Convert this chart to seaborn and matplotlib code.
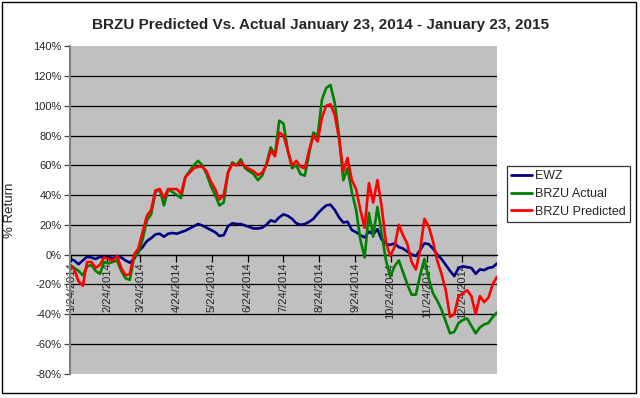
import numpy as np
import pandas as pd
import matplotlib
matplotlib.use("Agg")
import matplotlib.pyplot as plt
import seaborn as sns
from matplotlib.patches import Rectangle

# ---- data (percent return, sampled from 1/23/2014 to 1/23/2015) ----
ewz = [-3, -4, -6.5, -4, -1.5, -2, -3, -1.5, -2, -1.5,
       -2.5, -1, -2, -4, -5.5, -3, 2, 5, 9, 11,
       13.5, 14, 12, 14, 14.5, 14, 15, 16, 17.5, 19,
       20.5, 19.5, 18, 16.5, 15, 12.5, 13, 19, 21, 20.5,
       20.5, 19.5, 18.5, 17.5, 17.5, 18, 20, 23, 22, 25,
       27, 26, 24, 21, 20, 20.5, 22, 24, 27.5, 30.5,
       33, 33.5, 30, 25, 21.5, 22, 16.5, 15, 13, 11.5,
       15.5, 13.5, 17, 10, 7, 6.5, 7.5, 5, 4, 2,
       0, -1, 3, 7.5, 7, 4, 0, -3, -7, -11,
       -14.5, -9, -8, -8.5, -9, -13, -10, -10.5, -9, -8.5,
       -6]

brzu_actual = [-7, -9, -11, -14, -8, -7, -11, -13, -5, -6,
               -5, -4, -11, -16, -17, -2, 1, 10, 23, 27,
               42, 44, 33, 44, 42, 40, 38, 52, 56, 60,
               63, 60, 54, 46, 40, 33, 35, 55, 62, 60,
               64, 58, 56, 54, 50, 53, 61, 72, 67, 90,
               88, 70, 58, 60, 54, 53, 68, 82, 80, 104,
               112, 114, 102, 80, 50, 58, 42, 30, 10, -2,
               28, 12, 32, 14, -4, -15, -8, -4, -12, -20,
               -27, -27, -14, -3, -16, -26, -31, -37, -45, -53,
               -52, -46, -44, -43, -48, -53, -49, -47, -46, -42,
               -39]

brzu_predicted = [-7, -10, -18, -21, -5, -5, -9, -7, -2, -3,
                  -4, -1, -9, -14, -13, 0, 4, 15, 26, 30,
                  43, 44, 38, 44, 44, 44, 41, 52, 55, 58,
                  59, 59, 56, 49, 44, 37, 40, 55, 61, 60,
                  62, 59, 57.5, 56, 53.5, 55, 60, 70, 66, 82,
                  80, 70, 60, 63, 59, 58, 70, 80, 76, 92,
                  100, 101, 94, 78, 56, 65, 50, 44, 30, 18,
                  48, 35, 50, 32, 8, -1, 5, 20, 13, 7,
                  -5, -10, 3, 24, 19, 9, -4, -13, -24, -42,
                  -40, -28, -26, -24, -28, -40, -28, -32, -29, -20,
                  -15]

series_names = ["EWZ", "BRZU Actual", "BRZU Predicted"]
series_colors = ["#000080", "#008000", "#FF0000"]

x_tick_labels = ["1/24/2014", "2/24/2014", "3/24/2014", "4/24/2014",
                 "5/24/2014", "6/24/2014", "7/24/2014", "8/24/2014",
                 "9/24/2014", "10/24/2014", "11/24/2014", "12/24/2014"]
y_ticks = list(range(-80, 141, 20))

title = "BRZU Predicted Vs. Actual January 23, 2014 - January 23, 2015"

# ---- build table ----
dates = pd.date_range("2014-01-23", "2015-01-23", periods=len(ewz))
df = pd.DataFrame({
    "date": np.concatenate([dates, dates, dates]),
    "value": ewz + brzu_actual + brzu_predicted,
    "series": [series_names[0]] * len(ewz)
              + [series_names[1]] * len(brzu_actual)
              + [series_names[2]] * len(brzu_predicted),
})

sns.set_style("white")
plt.rcParams["font.family"] = ["Liberation Sans", "DejaVu Sans"]

W, H = 640, 398
fig = plt.figure(figsize=(W / 100, H / 100), dpi=100)
fig.patch.set_facecolor("white")
ax = fig.add_axes([70 / W, 1 - 373.5 / H, 427 / W, (373.5 - 46.3) / H])
ax.set_facecolor("#C0C0C0")

sns.lineplot(data=df, x="date", y="value", hue="series",
             hue_order=series_names, palette=series_colors,
             linewidth=1.9, errorbar=None, ax=ax, legend=True)

ax.set_xlim(dates[0], dates[-1])
ax.set_ylim(y_ticks[0], y_ticks[-1])
ax.set_yticks(y_ticks)
ax.set_yticklabels([f"{v}%" for v in y_ticks])

tick_pos = pd.to_datetime(x_tick_labels, format="%m/%d/%Y")
ax.set_xticks(tick_pos)
ax.set_xticklabels(x_tick_labels)

ax.yaxis.grid(True, color="black", linewidth=0.9)
ax.xaxis.grid(False)
ax.set_axisbelow(True)
gl = ax.get_ygridlines()
gl[0].set_visible(False)
gl[-1].set_visible(False)

for s in ["top", "right"]:
    ax.spines[s].set_visible(False)
ax.spines["left"].set_color("#808080")
ax.spines["left"].set_linewidth(1.5)
ax.spines["bottom"].set_position(("data", 0))
ax.spines["bottom"].set_color("black")
ax.spines["bottom"].set_linewidth(0.9)
ax.spines["bottom"].set_zorder(0.5)

ax.tick_params(axis="x", direction="out", length=5, width=0.9, color="black",
               labelsize=8, pad=1, bottom=True, labelrotation=90)
ax.tick_params(axis="y", direction="out", length=4, width=0.9, color="#404040",
               labelsize=8, pad=2, left=True)
for lbl in ax.get_xticklabels():
    lbl.set_rotation(90)
    lbl.set_ha("center")
    lbl.set_va("top")

ax.set_xlabel("")
ax.set_ylabel("% Return", fontsize=9.5)
ax.yaxis.set_label_coords((16 - 70) / 427, 0.5)

fig.text(0.5, 1 - 25 / H, title, ha="center", va="center",
         fontsize=11, fontweight="bold")

handles, labels = ax.get_legend_handles_labels()
ax.get_legend().remove()
for h in handles:
    h.set_linewidth(2)
leg = fig.legend(handles, labels, loc="upper left",
                 bbox_to_anchor=(506.7 / W, 1 - 166 / H),
                 frameon=True, fancybox=False, shadow=False,
                 fontsize=9, handlelength=1.7, handletextpad=0.2,
                 borderpad=0.35, labelspacing=0.45, borderaxespad=0)
leg.get_frame().set_edgecolor("black")
leg.get_frame().set_linewidth(0.9)
leg.get_frame().set_facecolor("white")

fig.patches.append(Rectangle((2 / W, 5 / H), 634 / W, 391 / H,
                             transform=fig.transFigure, fill=False,
                             edgecolor="black", linewidth=1))

fig.savefig("out.png", dpi=100)
